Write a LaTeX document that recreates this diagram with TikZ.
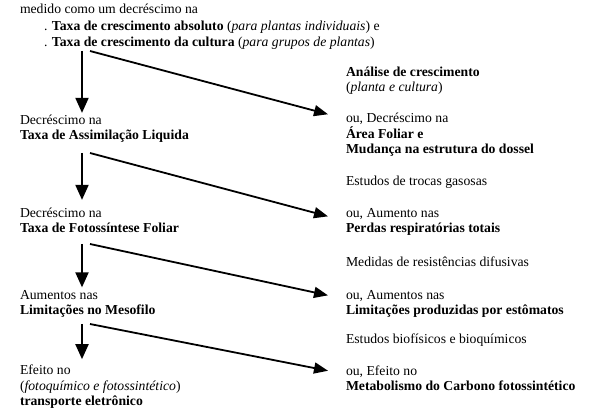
\documentclass[tikz,border=0pt]{standalone}
\usepackage{fontspec}
\setmainfont{Liberation Serif}
\usetikzlibrary{arrows.meta}

\begin{document}
\begin{tikzpicture}[
		x=1pt, y=-1pt,
		stage/.style={anchor=base west, align=left, inner sep=0pt, outer sep=0pt,
			font=\fontsize{13.7}{15.6}\selectfont},
		study/.style={stage},
		down/.style={-{Triangle[width=13pt, length=15pt]}, line width=2pt},
		side/.style={-{Triangle[width=11pt, length=14pt]}, line width=1.8pt}
		]
		\useasboundingbox (0,0) rectangle (590,417);
		
		% --- Left column (sequence of decreases) ---
		% (each node sits on the baseline of its last line)
		\node[stage, font=\fontsize{13.7}{16.5}\selectfont] (top) at (20,47)
		{medido como um decréscimo na\\
			\hspace*{24pt}. \textbf{Taxa de crescimento absoluto} (\textit{para plantas individuais}) e\\
			\hspace*{24pt}. \textbf{Taxa de crescimento da cultura} (\textit{para grupos de plantas})};
		\node[stage] (nar) at (20,140) {Decréscimo na\\\textbf{Taxa de Assimilação Liquida}};
		\node[stage] (photo) at (20,233) {Decréscimo na\\\textbf{Taxa de Fotossíntese Foliar}};
		\node[stage] (meso) at (20,315) {Aumentos nas\\\textbf{Limitações no Mesofilo}};
		\node[stage] (elec) at (20,406)
		{Efeito no\\(\textit{fotoquímico e fotossintético})\\\textbf{transporte eletrônico}};
		
		% --- Right column (alternatives and methods) ---
		\node[study] (growth) at (346,92) {\textbf{Análise de crescimento}\\(\textit{planta e cultura})};
		\node[study] (leaf) at (346,154)
		{ou, Decréscimo na\\\textbf{Área Foliar e}\\\textbf{Mudança na estrutura do dossel}};
		\node[study] (gas) at (346,186) {Estudos de trocas gasosas};
		\node[study] (resp) at (346,233) {ou, Aumento nas\\\textbf{Perdas respiratórias totais}};
		\node[study] (diff) at (346,267) {Medidas de resistências difusivas};
		\node[study] (stom) at (346,315) {ou, Aumentos nas\\\textbf{Limitações produzidas por estômatos}};
		\node[study] (bio) at (346,344) {Estudos biofísicos e bioquímicos};
		\node[study] (carb) at (346,391) {ou, Efeito no\\\textbf{Metabolismo do Carbono fotossintético}};
		
		% where the arrows leave each stage
		\path (top.base west) ++(62,4) coordinate (top-out);
		\path (nar.base west) ++(62,13) coordinate (nar-out);
		\path (photo.base west) ++(62,11) coordinate (photo-out);
		\path (meso.base west) ++(62,9) coordinate (meso-out);
		
		% Downward arrows
		\draw[down, shorten >=2pt] (top-out) -- (nar.north -| top-out);
		\draw[down, shorten >=8pt] (nar-out) -- (photo.north -| nar-out);
		\draw[down, shorten >=3pt] (photo-out) -- (meso.north -| photo-out);
		\draw[down, shorten >=6pt] (meso-out) -- (elec.north -| meso-out);
		
		% Side arrows to the alternatives
		\draw[side] ([xshift=8pt]top-out) -- ([xshift=-18pt, yshift=-1pt]leaf.north west);
		\draw[side] ([xshift=8pt]nar-out) -- ([xshift=-18pt, yshift=-8pt]resp.north west);
		\draw[side] ([xshift=8pt]photo-out) -- ([xshift=-18pt, yshift=-5pt]stom.north west);
		\draw[side] ([xshift=8pt]meso-out) -- ([xshift=-18pt, yshift=-5pt]carb.north west);
		
	\end{tikzpicture}
\end{document}
